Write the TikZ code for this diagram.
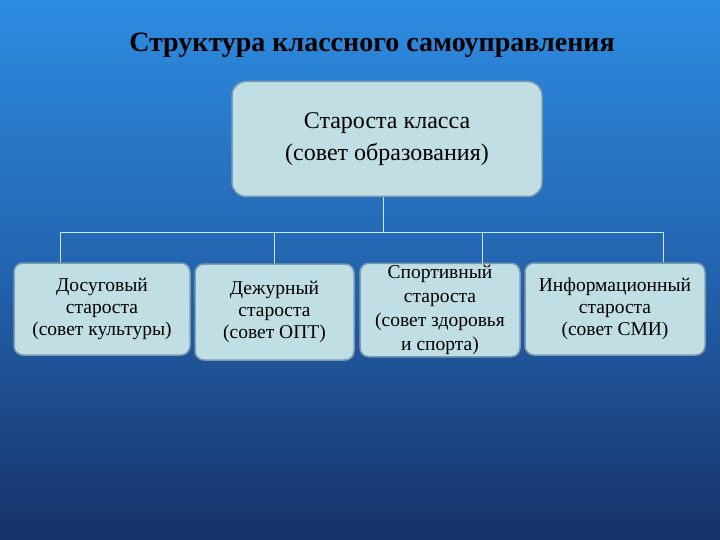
\documentclass[tikz,border=0pt]{standalone}
\usepackage{fontspec}
\setmainfont{Liberation Serif}
\definecolor{bgtop}{RGB}{45,140,225}
\definecolor{bgbot}{RGB}{22,50,105}
\definecolor{boxfill}{RGB}{192,222,228}
\definecolor{boxline}{RGB}{125,155,175}
\definecolor{conn}{RGB}{200,235,240}
\begin{document}
\begin{tikzpicture}[x=1pt,y=-1pt,
  box/.style={draw=boxline,line width=1.5pt,fill=boxfill,rounded corners=9pt,align=center,font=\fontsize{19.5}{22}\selectfont,inner sep=2pt},
  link/.style={draw=conn,line width=0.9pt}]
\shade[top color=bgtop,bottom color=bgbot,middle color={rgb,255:red,35;green,100;blue,175}] (0,0) rectangle (720,540);
\useasboundingbox (0,0) rectangle (720,540);
\node[font=\bfseries\fontsize{28}{32}\selectfont] (title) at (372,45) {Структура классного самоуправления};
\node[box,minimum width=310pt,minimum height=115pt,rounded corners=14pt,font=\fontsize{24}{32}\selectfont] (top) at (387,139) {Староста класса\\(совет образования)};
\node[box,minimum width=176pt,minimum height=92pt] (b1) at (102,309) {Досуговый\\староста\\(совет культуры)};
\node[box,minimum width=159pt,minimum height=96pt] (b2) at (274.5,312) {Дежурный\\староста\\(совет ОПТ)};
\node[box,minimum width=160pt,minimum height=92pt,font=\fontsize{19.5}{24}\selectfont] (b3) at (440,310) {Спортивный\\староста\\(совет здоровья\\и спорта)};
\node[box,minimum width=180pt,minimum height=92pt] (b4) at (615,309) {Информационный\\староста\\(совет СМИ)};
\coordinate (j) at (383,232);
\draw[link] (top.south -| j) -- (j);
\draw[link] (b1.north -| 60,0) -- (60,232) -- (663,232) -- (b4.north -| 663,0);
\draw[link] (b2.north) -- (b2.north |- j);
\draw[link] (b3.north -| 482,0) -- (482,232);
\end{tikzpicture}
\end{document}
